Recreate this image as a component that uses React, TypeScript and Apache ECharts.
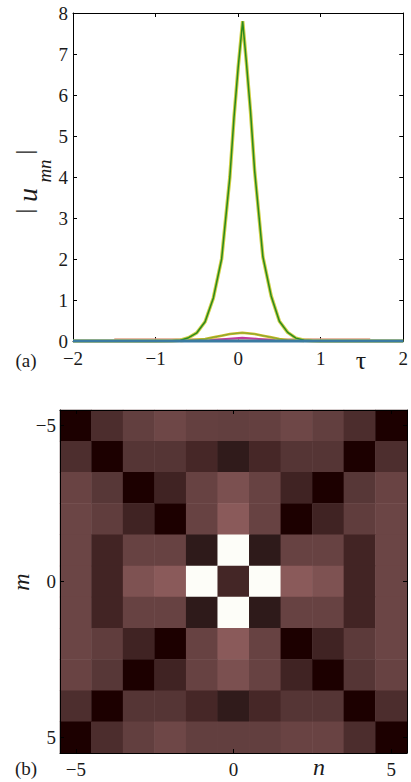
import React, { useEffect, useRef } from "react";
import * as echarts from "echarts";

// ---------- panel (a): |u_mn| versus tau ----------
const tauMain = [-2, -1.5, -1, -0.8, -0.7, -0.6, -0.5, -0.4, -0.3, -0.2, -0.1, -0.05, 0, 0.055, 0.1, 0.15, 0.2, 0.3, 0.4, 0.5, 0.6, 0.7, 0.8, 0.9, 1, 1.5, 2];
const uCentreNeighbour = [0, 0, 0, 0.005, 0.02, 0.08, 0.2, 0.47, 1.05, 2.0, 4.0, 5.45, 6.66, 7.8, 6.8, 5.6, 4.15, 2.05, 1.1, 0.48, 0.21, 0.07, 0.02, 0.005, 0, 0, 0];

const tauBump = [-0.7, -0.6, -0.4, -0.3, -0.2, -0.1, 0.05, 0.2, 0.3, 0.4, 0.5, 0.6, 0.8];
const uYellowBump = [0, 0.01, 0.05, 0.09, 0.13, 0.17, 0.2, 0.17, 0.13, 0.09, 0.05, 0.02, 0];

const tauSmall = [-0.35, -0.15, 0.05, 0.25, 0.45];
const uMagentaBump = [0.01, 0.05, 0.08, 0.05, 0.01];

const tauFlat = [-1.5, -0.5, 0.5, 1.6];
const uSalmon = [0.05, 0.05, 0.05, 0.05];

const tauZero = [-2, 2];
const uZero = [0, 0];

// ---------- panel (b): |u_mn| pattern (colour level 0..1) ----------
const nCats = ["-5", "-4", "-3", "-2", "-1", "0", "1", "2", "3", "4", "5"];
const mCats = ["-5", "-4", "-3", "-2", "-1", "0", "1", "2", "3", "4", "5"];

const rowM5 = [0, 0.25, 0.36, 0.41, 0.37, 0.36, 0.37, 0.41, 0.36, 0.25, 0];
const rowM4 = [0.26, 0, 0.3, 0.3, 0.22, 0.11, 0.22, 0.3, 0.3, 0, 0.26];
const rowM3 = [0.39, 0.31, 0, 0.19, 0.38, 0.45, 0.38, 0.19, 0, 0.31, 0.39];
const rowM2 = [0.4, 0.35, 0.19, 0, 0.38, 0.5, 0.38, 0, 0.19, 0.35, 0.4];
const rowM1 = [0.4, 0.2, 0.38, 0.38, 0.1, 1, 0.1, 0.38, 0.38, 0.2, 0.4];
const rowZ0 = [0.4, 0.2, 0.46, 0.5, 1, 0.21, 1, 0.5, 0.46, 0.2, 0.4];
const rowP1 = [0.4, 0.2, 0.38, 0.38, 0.1, 1, 0.1, 0.38, 0.38, 0.2, 0.4];
const rowP2 = [0.4, 0.35, 0.19, 0, 0.38, 0.5, 0.38, 0, 0.19, 0.33, 0.4];
const rowP3 = [0.39, 0.31, 0, 0.19, 0.38, 0.45, 0.38, 0.19, 0, 0.3, 0.38];
const rowP4 = [0.26, 0, 0.3, 0.3, 0.22, 0.11, 0.22, 0.3, 0.3, 0, 0.25];
const rowP5 = [0, 0.25, 0.36, 0.41, 0.36, 0.36, 0.36, 0.39, 0.39, 0.25, 0];

const heatRows = [rowM5, rowM4, rowM3, rowM2, rowM1, rowZ0, rowP1, rowP2, rowP3, rowP4, rowP5];

const pinkScale = ["#1c0000", "#2e1a1a", "#422424", "#553535", "#6b4545", "#8a5a5a", "#a57a7a", "#c09a9a", "#d9bdbd", "#eedede", "#fdfdf8"];

const SERIF = '"Liberation Serif", "Times New Roman", serif';
const TXT = "#1a1a1a";

const minus = (s: string | number) => {
  const v = String(s);
  return v.startsWith("-") ? "\u2212" + v.slice(1) : v;
};

const pairs = (xs: number[], ys: number[]) => xs.map((x, i) => [x, ys[i]]);

export default function App() {
  const ref = useRef<HTMLDivElement>(null);

  useEffect(() => {
    if (!ref.current) return;
    const chart = echarts.init(ref.current, null, { renderer: "svg" });

    const heatData: number[][] = [];
    heatRows.forEach((row, r) => row.forEach((v, c) => heatData.push([c, r, v])));

    const lineAxisCommon = {
      axisLine: { show: true, onZero: false, lineStyle: { color: "#000", width: 1 } },
      axisTick: { show: true, inside: true, length: 4, lineStyle: { color: "#000", width: 1 } },
      splitLine: { show: false },
    };
    const labelStyle = { fontFamily: SERIF, fontSize: 19, color: TXT };
    const every5 = (i: number) => i % 5 === 0;

    const txt = (text: string, x: number, y: number, size: number, italic = false, rot = 0) => ({
      type: "text",
      x,
      y,
      rotation: rot,
      style: {
        text,
        fill: TXT,
        fontFamily: SERIF,
        fontSize: size,
        fontStyle: italic ? "italic" : "normal",
        align: "center",
        verticalAlign: "middle",
        textAlign: "center",
        textVerticalAlign: "middle",
      },
    });

    chart.setOption({
      animation: false,
      backgroundColor: "#fff",
      grid: [
        { left: 73, top: 13, width: 333, height: 328 },
        { left: 60, top: 410, width: 347, height: 343 },
      ],
      xAxis: [
        {
          type: "value", gridIndex: 0, min: -2, max: 2, interval: 1, position: "bottom",
          ...lineAxisCommon,
          axisLabel: { ...labelStyle, margin: 8, formatter: (v: number) => minus(v) },
        },
        {
          type: "value", gridIndex: 0, min: -2, max: 2, interval: 1, position: "top",
          ...lineAxisCommon,
          axisLabel: { show: false },
        },
        {
          type: "category", gridIndex: 1, data: nCats, position: "bottom", z: 10,
          axisLine: { show: true, onZero: false, lineStyle: { color: "#000", width: 1 } },
          axisTick: { show: true, inside: true, length: 4, alignWithLabel: true, interval: every5, lineStyle: { color: "#000" } },
          axisLabel: { ...labelStyle, margin: 7, interval: every5, formatter: (v: string) => minus(v) },
          splitLine: { show: false },
        },
        {
          type: "category", gridIndex: 1, data: nCats, position: "top", z: 10,
          axisLine: { show: true, onZero: false, lineStyle: { color: "#000", width: 1 } },
          axisTick: { show: true, inside: true, length: 4, alignWithLabel: true, interval: every5, lineStyle: { color: "#000" } },
          axisLabel: { show: false },
          splitLine: { show: false },
        },
      ],
      yAxis: [
        {
          type: "value", gridIndex: 0, min: 0, max: 8, interval: 1, position: "left",
          ...lineAxisCommon,
          axisLabel: { ...labelStyle, margin: 5 },
        },
        {
          type: "value", gridIndex: 0, min: 0, max: 8, interval: 1, position: "right",
          ...lineAxisCommon,
          axisLabel: { show: false },
        },
        {
          type: "category", gridIndex: 1, data: mCats, inverse: true, position: "left", z: 10,
          axisLine: { show: true, onZero: false, lineStyle: { color: "#000", width: 1 } },
          axisTick: { show: true, inside: true, length: 4, alignWithLabel: true, interval: every5, lineStyle: { color: "#000" } },
          axisLabel: { ...labelStyle, margin: 4, interval: every5, formatter: (v: string) => minus(v) },
          splitLine: { show: false },
        },
        {
          type: "category", gridIndex: 1, data: mCats, inverse: true, position: "right", z: 10,
          axisLine: { show: true, onZero: false, lineStyle: { color: "#000", width: 1 } },
          axisTick: { show: true, inside: true, length: 4, alignWithLabel: true, interval: every5, lineStyle: { color: "#000" } },
          axisLabel: { show: false },
          splitLine: { show: false },
        },
      ],
      visualMap: {
        type: "continuous", show: false, seriesIndex: 7, min: 0, max: 1,
        inRange: { color: pinkScale },
      },
      series: [
        {
          type: "line", xAxisIndex: 0, yAxisIndex: 0, showSymbol: false, clip: false,
          data: pairs(tauFlat, uSalmon), lineStyle: { color: "#e3a287", width: 1.5 },
        },
        {
          type: "line", xAxisIndex: 0, yAxisIndex: 0, showSymbol: false, clip: false,
          data: pairs(tauSmall, uMagentaBump), lineStyle: { color: "#c23b9c", width: 2 },
        },
        {
          type: "line", xAxisIndex: 0, yAxisIndex: 0, showSymbol: false, clip: false,
          data: pairs(tauBump, uYellowBump), lineStyle: { color: "#cdb820", width: 2.5 },
        },
        {
          type: "line", xAxisIndex: 0, yAxisIndex: 0, showSymbol: false, clip: false,
          data: pairs(tauBump, uYellowBump), lineStyle: { color: "#7fa83a", width: 1 },
        },
        {
          type: "line", xAxisIndex: 0, yAxisIndex: 0, showSymbol: false, clip: false,
          data: pairs(tauMain, uCentreNeighbour), lineStyle: { color: "#cfcf45", width: 3.5 },
        },
        {
          type: "line", xAxisIndex: 0, yAxisIndex: 0, showSymbol: false, clip: false,
          data: pairs(tauMain, uCentreNeighbour), lineStyle: { color: "#2a8a1e", width: 1.5 },
        },
        {
          type: "line", xAxisIndex: 0, yAxisIndex: 0, showSymbol: false, clip: false,
          data: pairs(tauZero, uZero), lineStyle: { color: "#3a7ba2", width: 3 },
        },
        {
          type: "heatmap", xAxisIndex: 2, yAxisIndex: 2, data: heatData,
          itemStyle: { borderWidth: 0 },
        },
      ],
      graphic: [
        txt("(a)", 26, 360, 19),
        txt("\u03c4", 361, 360, 26),
        txt("|", 24, 211, 24, false, Math.PI / 2),
        txt("u", 27, 195, 28, true, Math.PI / 2),
        txt("mn", 44, 171, 19, true, Math.PI / 2),
        txt("|", 24, 152, 24, false, Math.PI / 2),
        txt("(b)", 26, 768, 19),
        txt("m", 21, 582, 24, true, Math.PI / 2),
        txt("n", 319, 767, 24, true),
      ],
    });

    return () => chart.dispose();
  }, []);

  return (
    <div
      ref={ref}
      style={{ position: "absolute", left: 0, top: 0, width: 411, height: 782, background: "#fff" }}
    />
  );
}
